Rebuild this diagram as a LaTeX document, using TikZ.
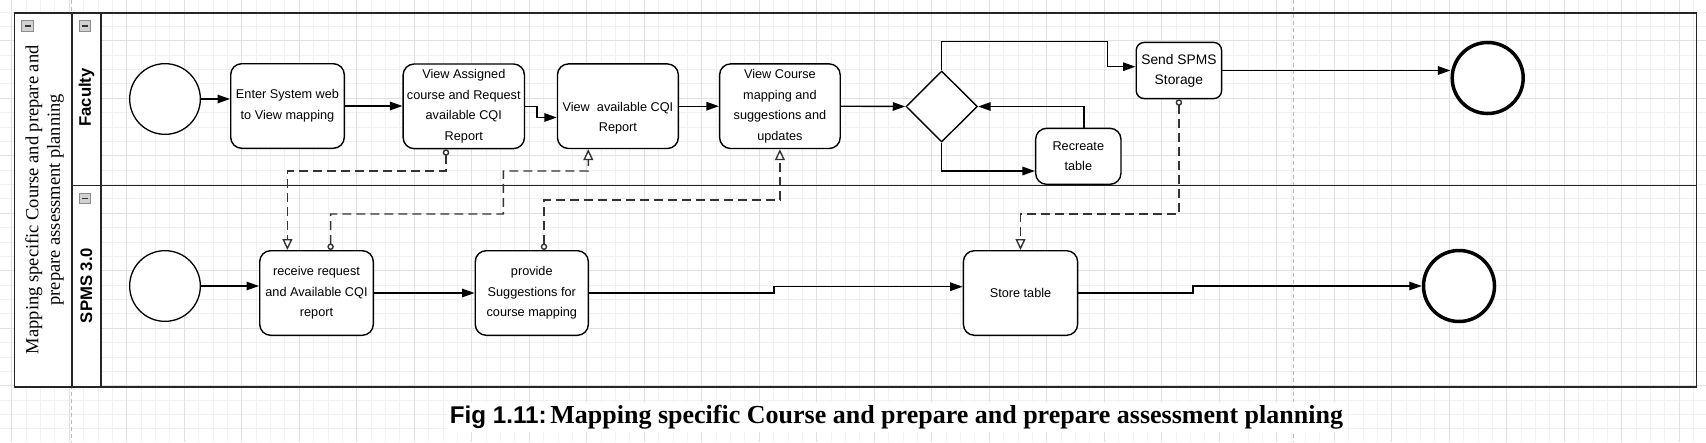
\documentclass[tikz,border=0pt]{standalone}
\usepackage{fontspec}
\setmainfont{Liberation Sans}
\newfontfamily\lserif{Liberation Serif}
\usetikzlibrary{arrows.meta,shapes.geometric,calc}
\begin{document}
\begin{tikzpicture}[x=1pt,y=-1pt,
  minorgrid/.style={draw=black!6,line width=0.8pt},
  majorgrid/.style={draw=black!12,line width=0.8pt},
  pagebreak/.style={draw=black!28,line width=1pt,dash pattern=on 4pt off 3pt},
  frame/.style={draw=black!85,line width=1.8pt},
  task/.style={draw=black,line width=1.4pt,rounded corners=11pt,fill=white,inner sep=2pt,align=center,font=\fontsize{12.7}{20.7}\selectfont},
  startev/.style={circle,draw=black,line width=1.3pt,fill=white,minimum size=70.7pt,inner sep=0pt},
  endev/.style={circle,draw=black,line width=3.5pt,fill=white,minimum size=71pt,inner sep=0pt},
  gateway/.style={diamond,draw=black,line width=1.4pt,fill=white,minimum width=71.5pt,minimum height=71pt,inner sep=0pt},
  flow/.style={draw=black,line width=1.4pt,-{Triangle[length=12.5pt,width=8.5pt]}},
  msg/.style={draw=black!80,line width=1.4pt,dash pattern=on 9pt off 5pt,{Circle[open,length=6.5pt,width=6.5pt,fill=white]}-{Triangle[open,length=11pt,width=10pt,fill=white]}},
  lanetitle/.style={rotate=90,font=\bfseries\fontsize{16.7}{20}\selectfont},
  minusbox/.style={draw=black!45,fill=black!18,line width=0.8pt,minimum width=11.6pt,minimum height=10.3pt,inner sep=0pt}
]
\useasboundingbox (0,0) rectangle (1706,442);
% background grid
\foreach \i in {0,...,119}{\draw[minorgrid] ({-2.675+14.375*\i},0) -- ({-2.675+14.375*\i},442);}
\foreach \j in {0,...,31}{\draw[minorgrid] (0,{-2.425+14.375*\j}) -- (1706,{-2.425+14.375*\j});}
\foreach \i in {0,...,29}{\draw[majorgrid] ({11.7+57.5*\i},0) -- ({11.7+57.5*\i},442);}
\foreach \j in {0,...,7}{\draw[majorgrid] (0,{-16.8+57.5*\j}) -- (1706,{-16.8+57.5*\j});}
\draw[pagebreak] (71.7,0) -- (71.7,442);
\draw[pagebreak] (1293.3,0) -- (1293.3,442);
% pool and lanes
\fill[white] (14.5,12.7) rectangle (100.7,386.7);
\draw[frame] (14.5,12.7) rectangle (1696.5,386.7);
\draw[frame] (72,12.7) -- (72,386.7);
\draw[frame] (100.7,12.7) -- (100.7,386.7);
\draw[frame] (72,185.5) -- (1696.5,185.5);
\node[minusbox] (mpool) at (27.5,25.9) {\textcolor{black!80}{\rule{6pt}{1.4pt}}};
\node[minusbox] (mfac) at (84.9,25.9) {\textcolor{black!80}{\rule{6pt}{1.4pt}}};
\node[minusbox] (mspms) at (84.9,198.5) {\textcolor{black!80}{\rule{6pt}{1.4pt}}};
\node[rotate=90,align=center,font=\lserif\fontsize{18.5}{21.5}\selectfont] (pooltitle) at (44.7,199.7) {Mapping specific Course and prepare and\\prepare assessment planning};
\node[lanetitle] (faculty) at (86.5,97.5) {Faculty};
\node[lanetitle] (spms) at (86.5,285.5) {SPMS 3.0};
% Faculty lane
\node[startev] (s1) at (165,99) {};
\node[task,minimum width=113.6pt,minimum height=84.6pt] (e1) at (287.5,106) {Enter System web\\to View mapping};
\node[task,minimum width=121.3pt,minimum height=84.6pt] (v2) at (463.8,106.3) {View Assigned\\course and Request\\available CQI\\Report};
\node[task,minimum width=120.9pt,minimum height=84.6pt] (v3) at (617.9,106.2) {};
\node[align=center,font=\fontsize{12.7}{20.7}\selectfont,inner sep=0pt] (v3t) at (617.9,118.3) {View\ \ available CQI\\Report};
\node[task,minimum width=120.6pt,minimum height=84.6pt] (v4) at (779.9,106.2) {View Course\\mapping and\\suggestions and\\updates};
\node[gateway] (d) at (941.7,106.5) {};
\node[task,minimum width=85.3pt,minimum height=56pt] (rc) at (1078.3,156.3) {Recreate\\table};
\node[task,rounded corners=8pt,minimum width=85.4pt,minimum height=56.2pt,font=\fontsize{13.8}{20}\selectfont] (send) at (1178.9,70.5) {Send SPMS\\Storage};
\node[endev] (end1) at (1487.7,78) {};
% SPMS lane
\node[startev] (s2) at (165,286) {};
\node[task,minimum width=113.6pt,minimum height=84.6pt] (rcv) at (316.5,293) {receive request\\and Available CQI\\report};
\node[task,minimum width=113.1pt,minimum height=84.6pt] (prov) at (531.8,293) {provide\\Suggestions for\\course mapping};
\node[task,minimum width=114.2pt,minimum height=84.6pt] (store) at (1020.5,293) {Store table};
\node[endev] (end2) at (1459,286) {};
% sequence flows
\draw[flow] (s1.east) -- (s1.east -| e1.west);
\draw[flow] (e1.east) -- (e1.east -| v2.west);
\draw[flow] (v2.east) -- ++(11.7,0) |- ([yshift=-11.3pt]v3.west);
\draw[flow] (v3.east) -- (v3.east -| v4.west);
\draw[flow] (v4.east) -- (d.west);
\draw[flow] (d.north) |- (1107.3,41.7) |- ([yshift=3.8pt]send.west);
\draw[flow] (d.south) |- ([yshift=-14.7pt]rc.west);
\draw[flow] ([xshift=5.7pt]rc.north) |- (d.east);
\draw[flow] (send.east) -- (send.east -| end1.west);
\draw[flow] (s2.east) -- (s2.east -| rcv.west);
\draw[flow] (rcv.east) -- (rcv.east -| prov.west);
\draw[flow] (prov.east) -- (774,293) |- ([yshift=6.3pt]store.west);
\draw[flow] (store.east) -- (1193,293) |- (end2.west);
% message flows
\draw[msg] ([xshift=-17.8pt]v2.south) |- (287.4,171) -- ([xshift=-29.1pt]rcv.north);
\draw[msg] ([xshift=14.1pt]rcv.north) |- (503.3,214) |- (588.3,171) -- ([xshift=-29.6pt]v3.south);
\draw[msg] ([xshift=12.2pt]prov.north) |- (779.9,200) -- (v4.south);
\draw[msg] (send.south) |- (1020.5,214) -- (store.north);
% caption
\node[anchor=base west,fill=white,inner sep=3pt] (cap) at (446.7,423.3) {{\bfseries\fontsize{24.2}{28}\selectfont Fig 1.11:} {\lserif\bfseries\fontsize{26}{28}\selectfont Mapping specific Course and prepare and prepare assessment planning}};
\end{tikzpicture}
\end{document}
